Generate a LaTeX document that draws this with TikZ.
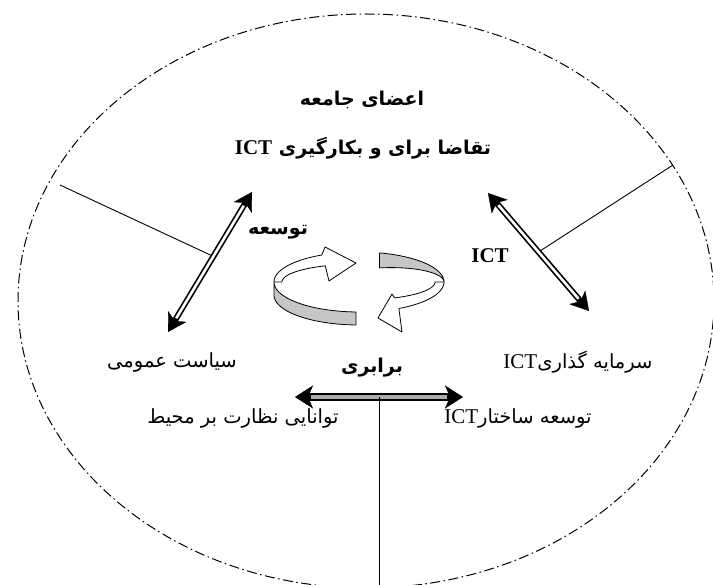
\documentclass[tikz,border=0pt]{standalone}
\usepackage{fontspec}
\usetikzlibrary{arrows.meta,calc}
\newfontfamily\arabicfont[Script=Arabic]{DejaVu Sans}
\newfontfamily\latinfont{Liberation Serif}
\TeXXeTstate=1
\newcommand{\fa}[1]{{\arabicfont\beginR #1\endR}}
\newcommand{\ictword}{{\latinfont\fontsize{21}{23}\selectfont ICT}}
\tikzset{
  lbl/.style={inner sep=0pt, font=\fontsize{19.5}{22}\selectfont},
  blbl/.style={inner sep=0pt, font=\fontsize{19}{22}\selectfont\bfseries},
  dblarrow/.style={line width=6pt,
     {Stealth[length=18pt,width=21pt,inset=5pt,line width=0.3pt]}-{Stealth[length=18pt,width=21pt,inset=5pt,line width=0.3pt]}},
  dblinner/.style={white, line width=2.6pt, shorten <=16pt, shorten >=16pt},
  grayarrow/.style={line width=8pt,
     {Stealth[length=18pt,width=23pt,inset=5pt,line width=0.3pt]}-{Stealth[length=18pt,width=23pt,inset=5pt,line width=0.3pt]}},
  grayinner/.style={draw=gray!65, line width=4.5pt, shorten <=16pt, shorten >=16pt},
  ribbon/.style={line width=0.8pt, line join=round},
  thinline/.style={line width=0.9pt},
  boundary/.style={line width=1pt, dash pattern=on 10pt off 3.5pt on 1.5pt off 3.5pt},
}
\begin{document}
\begin{tikzpicture}[x=1pt,y=-1pt]
\useasboundingbox (0,0) rectangle (713,585);
\fill[white] (0,0) rectangle (713,585);
% outer boundary
\draw[boundary] (366,301) ellipse [x radius=348, y radius=287];

% coordinates
\coordinate (lt) at (252,192);
\coordinate (lb) at (168,332);
\coordinate (rt) at (488,193);
\coordinate (rb) at (589,311);
\coordinate (hl) at (295,397);
\coordinate (hr) at (463,397);
\coordinate (hm) at (379,397);
\coordinate (bot) at (379,590);
\coordinate (ls) at (60,185);
\coordinate (rs) at (673,165);

% thin lines
\draw[thinline] (ls) -- ($(lt)!0.46!(lb)$);
\draw[thinline] (rs) -- ($(rt)!0.5!(rb)$);
\draw[thinline] (hm) -- (bot);

% double arrows
\draw[dblarrow] (lt) -- (lb);
\draw[dblinner] (lt) -- (lb);
\draw[dblarrow] (rt) -- (rb);
\draw[dblinner] (rt) -- (rb);
\draw[grayarrow] (hl) -- (hr);
\draw[grayinner] (hl) -- (hr);
\draw[thinline] (hm) -- ++(0,5);

% circular ribbon arrows
\filldraw[ribbon, fill=gray!45]
  plot[domain=92:180,samples=40,variable=\t] ({359+85*cos(\t)},{282+30*sin(\t)})
  -- plot[domain=180:92,samples=40,variable=\t] ({359+85*cos(\t)},{295+30*sin(\t)}) -- cycle;
\filldraw[ribbon, fill=white]
  plot[domain=180:244,samples=40,variable=\t] ({359+85*cos(\t)},{282+30*sin(\t)})
  -- (325,247) -- (356,263) -- (329,281)
  -- plot[domain=244:180,samples=40,variable=\t] ({359+77*cos(\t)},{282+18*sin(\t)}) -- cycle;
\filldraw[ribbon, fill=gray!45]
  plot[domain=284:360,samples=40,variable=\t] ({359+85*cos(\t)},{282+30*sin(\t)})
  -- plot[domain=360:284,samples=40,variable=\t] ({359+85*cos(\t)},{282+30*sin(\t)+15*(360-\t)/76}) -- cycle;
\filldraw[ribbon, fill=white]
  plot[domain=0:62,samples=40,variable=\t] ({359+85*cos(\t)},{282+30*sin(\t)})
  -- (402,332) -- (378,318) -- (392,294)
  -- plot[domain=62:0,samples=40,variable=\t] ({359+76*cos(\t)},{282+18*sin(\t)}) -- cycle;

% texts
\node[blbl] (t1) at (362,100) {\fa{اعضای جامعه}};
\node[blbl] (t2) at (363,148) {\fa{تقاضا برای و بکارگیری \ictword}};
\node[blbl] (t3) at (278,232) {\fa{توسعه}};
\node[inner sep=0pt] (t4) at (490,256) {\latinfont\fontsize{21}{23}\selectfont\bfseries ICT};
\node[lbl] (t5) at (172,362) {\fa{سیاست عمومی}};
\node[blbl] (t6) at (372,368) {\fa{برابری}};
\node[lbl] (t7) at (578,362) {\fa{سرمایه گذاری\ictword}};
\node[lbl] (t8) at (243,418) {\fa{توانایی نظارت بر محیط}};
\node[lbl] (t9) at (518,418) {\fa{توسعه ساختار\ictword}};
\end{tikzpicture}
\end{document}
